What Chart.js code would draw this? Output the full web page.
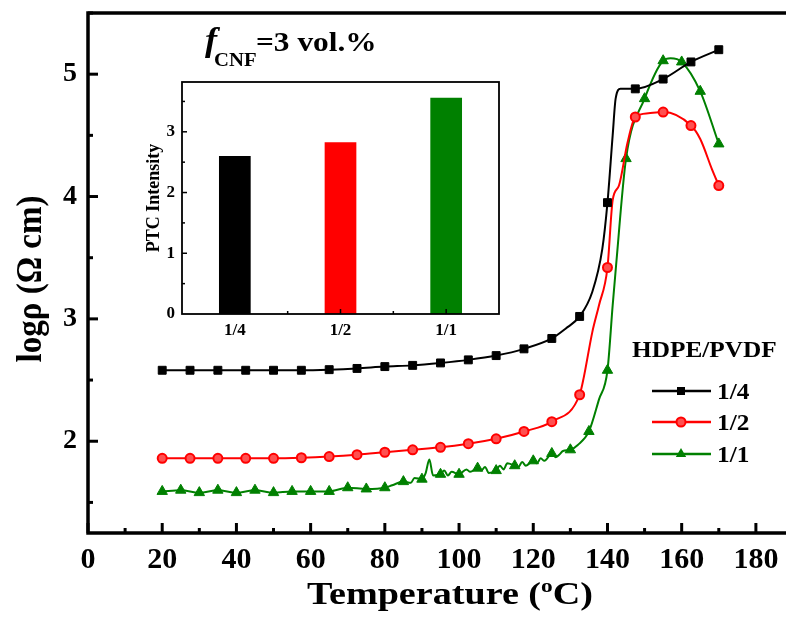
<!DOCTYPE html>
<html><head><meta charset="utf-8">
<script src="https://cdn.jsdelivr.net/npm/chart.js@4/dist/chart.umd.min.js"></script>
<style>
html,body{margin:0;padding:0;background:#fff;overflow:hidden;width:786px;height:618px;}
#wrap{position:relative;width:786px;height:618px;overflow:hidden;background:#fff;}
#main{position:absolute;left:0;top:0;}
#inset{position:absolute;left:140px;top:70px;}
</style></head><body>
<div id="wrap"><canvas id="main" width="800" height="618"></canvas><canvas id="inset" width="370" height="275"></canvas></div>
<script>
// ---------- data ----------
const seriesNames = ['1/4', '1/2', '1/1'];

const blackT = [20,27.5,35,42.5,50,57.5,65,72.5,80,87.5,95,102.5,110,117.5,125,128.7,132.5,135.9,138.6,140,141.4,142.2,143.5,147.5,155,162.5,170];
const blackV = [2.58,2.58,2.58,2.58,2.58,2.58,2.585,2.595,2.61,2.62,2.64,2.665,2.70,2.755,2.84,2.92,3.02,3.22,3.57,3.95,4.50,4.80,4.88,4.88,4.96,5.10,5.20];

const redT = [20,27.5,35,42.5,50,57.5,65,72.5,80,87.5,95,102.5,110,117.5,125,132.5,133.6,135.9,137.7,140,141.4,143.1,145.4,147.5,151,155,162.5,165,168.2,170];
const redV = [1.86,1.86,1.86,1.86,1.86,1.865,1.875,1.89,1.91,1.93,1.95,1.98,2.02,2.08,2.16,2.38,2.52,2.89,3.11,3.42,3.97,4.09,4.44,4.65,4.68,4.69,4.58,4.47,4.22,4.09];

const greenT = [20,25,30,35,40,45,50,55,60,65,70,75,80,82,85,87,88,90,91,92,93,95,96,97,98,100,102,103,105,106,107,108,110,111,112,113,115,116,117,118,120,121,122,123,125,126,127,128,130,132,135,137.7,140,141.4,142.3,145,150,155,157,160,165,170];
const greenV = [1.59,1.60,1.58,1.60,1.58,1.60,1.58,1.59,1.59,1.59,1.62,1.61,1.62,1.64,1.67,1.66,1.70,1.69,1.74,1.85,1.72,1.73,1.76,1.72,1.75,1.73,1.77,1.75,1.78,1.76,1.79,1.74,1.76,1.80,1.77,1.82,1.80,1.79,1.83,1.80,1.84,1.82,1.86,1.84,1.90,1.87,1.89,1.92,1.93,1.97,2.08,2.34,2.58,3.11,3.43,4.31,4.80,5.11,5.13,5.10,4.86,4.43];

const xTicks = [0,20,40,60,80,100,120,140,160,180];
const yTicks = [2,3,4,5];

// inset
const ptcLabels = ['1/4', '1/2', '1/1'];
const ptcValues = [2.60, 2.83, 3.56];
const insetTicks = [0,1,2,3];

// ---------- styles ----------
const FAM = "'Liberation Serif','Times New Roman',serif";
const colors = ['#000000', '#ff0000', '#008000'];

function pts(T, V) { return T.map((t, i) => ({x: t, y: V[i]})); }
function onStep(x, step) { if (x == null) return false; const k = (x - 20) / step; return Math.abs(k - Math.round(k)) < 1e-6; }
function noPad(s) { s.paddingTop = 0; s.paddingBottom = 0; s.paddingLeft = 0; s.paddingRight = 0; }

function stretchText(ctx, txt, x, y, font, sx, align) {
  ctx.save();
  ctx.font = font;
  ctx.fillStyle = '#000';
  ctx.textAlign = align || 'left';
  ctx.textBaseline = 'alphabetic';
  ctx.translate(x, y);
  ctx.scale(sx, 1);
  ctx.fillText(txt, 0, 0);
  ctx.restore();
}

function marker(ctx, style, x, y, color) {
  ctx.save();
  ctx.fillStyle = color; ctx.strokeStyle = color; ctx.lineWidth = 2;
  ctx.beginPath();
  if (style === 'rect') { ctx.rect(x - 4, y - 4, 8, 8); ctx.fill(); }
  else if (style === 'circle') { ctx.arc(x, y, 4.5, 0, Math.PI * 2); ctx.fillStyle = '#ff5050'; ctx.fill(); ctx.stroke(); }
  else { const r = 6; ctx.moveTo(x, y - r); ctx.lineTo(x + r * 0.866, y + r * 0.5); ctx.lineTo(x - r * 0.866, y + r * 0.5); ctx.closePath(); ctx.fill(); }
  ctx.restore();
}

const mainDecor = {
  id: 'mainDecor',
  afterDraw(chart) {
    const ctx = chart.ctx, a = chart.chartArea, xs = chart.scales.x, ys = chart.scales.y;
    ctx.save();
    ctx.strokeStyle = '#000';
    ctx.lineWidth = 3;
    for (let v = 0; v <= 190; v += 10) {
      const px = xs.getPixelForValue(v);
      const L = (v % 20 === 0) ? 10 : 5;
      ctx.beginPath(); ctx.moveTo(px, a.bottom); ctx.lineTo(px, a.bottom - L); ctx.stroke();
    }
    for (let v = 1.5; v <= 5.5; v += 0.5) {
      const py = ys.getPixelForValue(v);
      const L = (Math.abs(v - Math.round(v)) < 1e-6) ? 10 : 5;
      ctx.beginPath(); ctx.moveTo(a.left, py); ctx.lineTo(a.left + L, py); ctx.stroke();
    }
    ctx.lineWidth = 3.5;
    ctx.strokeRect(a.left, a.top, a.right - a.left, a.bottom - a.top);
    ctx.restore();

    // x title with superscript o
    const xf = 'bold 31px ' + FAM;
    ctx.save(); ctx.font = xf;
    const s1 = 'Temperature (', s2 = 'C)';
    const w1 = ctx.measureText(s1).width, w2 = ctx.measureText(s2).width;
    ctx.font = 'bold 19px ' + FAM; const wo = ctx.measureText('o').width;
    ctx.restore();
    const sx = 1.23;
    const total = (w1 + wo + w2) * sx;
    let x0 = 450 - total / 2;
    stretchText(ctx, s1, x0, 604, xf, sx, 'left');
    stretchText(ctx, 'o', x0 + w1 * sx, 592, 'bold 19px ' + FAM, sx, 'left');
    stretchText(ctx, s2, x0 + (w1 + wo) * sx, 604, xf, sx, 'left');

    // y title (rotated)
    ctx.save();
    ctx.font = 'bold 33px ' + FAM; ctx.fillStyle = '#000';
    ctx.textAlign = 'center'; ctx.textBaseline = 'middle';
    ctx.translate(32, 279); ctx.scale(1.1, 1); ctx.rotate(-Math.PI / 2);
    ctx.fillText('log\u03C1 (\u03A9 cm)', 0, 0);
    ctx.restore();

    // annotation f_CNF = 3 vol.%
    stretchText(ctx, 'f', 205, 51, 'italic bold 33px ' + FAM, 1.1, 'left');
    stretchText(ctx, 'CNF', 214, 66, 'bold 18px ' + FAM, 1.15, 'left');
    stretchText(ctx, '=3 vol.%', 256, 51, 'bold 28px ' + FAM, 1.12, 'left');

    // legend
    stretchText(ctx, 'HDPE/PVDF', 632, 357, 'bold 23px ' + FAM, 1.1, 'left');
    const ly = [391, 422, 454], styles = ['rect', 'circle', 'triangle'];
    for (let i = 0; i < 3; i++) {
      ctx.save(); ctx.strokeStyle = colors[i]; ctx.lineWidth = 2.5;
      ctx.beginPath(); ctx.moveTo(652, ly[i]); ctx.lineTo(711, ly[i]); ctx.stroke(); ctx.restore();
      marker(ctx, styles[i], 681, ly[i], colors[i]);
      stretchText(ctx, seriesNames[i], 717, ly[i] + 8, 'bold 23px ' + FAM, 1.1, 'left');
    }
  }
};

new Chart(document.getElementById('main'), {
  type: 'line',
  data: {
    datasets: [
      { label: seriesNames[0], data: pts(blackT, blackV), borderColor: colors[0], backgroundColor: colors[0], borderWidth: 2,
        pointStyle: 'rect', pointRadius: c => onStep(c.raw && c.raw.x, 7.5) ? 5.6 : 0, pointBorderWidth: 1,
        cubicInterpolationMode: 'monotone' },
      { label: seriesNames[1], data: pts(redT, redV), borderColor: colors[1], backgroundColor: '#ff5050', borderWidth: 2,
        pointStyle: 'circle', pointRadius: c => onStep(c.raw && c.raw.x, 7.5) ? 4.5 : 0, pointBorderWidth: 2,
        cubicInterpolationMode: 'monotone' },
      { label: seriesNames[2], data: pts(greenT, greenV), borderColor: colors[2], backgroundColor: colors[2], borderWidth: 2,
        pointStyle: 'triangle', pointRadius: c => onStep(c.raw && c.raw.x, 5) ? 6 : 0, pointBorderWidth: 1,
        cubicInterpolationMode: 'monotone' }
    ]
  },
  options: {
    responsive: false, animation: false, devicePixelRatio: 1,
    layout: { padding: { top: 13, right: 6, left: 0, bottom: 0 } },
    plugins: { legend: { display: false }, tooltip: { enabled: false } },
    scales: {
      x: { type: 'linear', min: 0, max: 190,
        afterBuildTicks: s => { s.ticks = xTicks.map(v => ({ value: v })); },
        afterFit: s => { s.height = 85; noPad(s); },
        grid: { display: false, drawTicks: false }, border: { display: false },
        ticks: { font: { family: FAM, size: 30, weight: 'bold' }, color: '#000', padding: 9, maxRotation: 0, autoSkip: false } },
      y: { type: 'linear', min: 1.25, max: 5.5,
        afterBuildTicks: s => { s.ticks = yTicks.map(v => ({ value: v })); },
        afterFit: s => { s.width = 88; noPad(s); },
        grid: { display: false, drawTicks: false }, border: { display: false },
        ticks: { font: { family: FAM, size: 28, weight: 'bold' }, color: '#000', padding: 11 } }
    }
  },
  plugins: [mainDecor]
});

const insetDecor = {
  id: 'insetDecor',
  beforeDraw(chart) {
    const ctx = chart.ctx, a = chart.chartArea;
    ctx.save(); ctx.fillStyle = '#fff'; ctx.fillRect(a.left, a.top, a.right - a.left, a.bottom - a.top); ctx.restore();
  },
  afterDraw(chart) {
    const ctx = chart.ctx, a = chart.chartArea, xs = chart.scales.x, ys = chart.scales.y;
    ctx.save(); ctx.strokeStyle = '#000'; ctx.lineWidth = 1.5;
    for (let v = 0.5; v <= 3.5; v += 0.5) {
      const py = ys.getPixelForValue(v);
      const L = (Math.abs(v - Math.round(v)) < 1e-6) ? 5 : 3;
      ctx.beginPath(); ctx.moveTo(a.left, py); ctx.lineTo(a.left + L, py); ctx.stroke();
    }
    for (let i = 0; i < ptcLabels.length; i++) {
      const px = xs.getPixelForValue(i);
      ctx.beginPath(); ctx.moveTo(px, a.bottom); ctx.lineTo(px, a.bottom - 5); ctx.stroke();
      if (i < ptcLabels.length - 1) {
        const pm = (px + xs.getPixelForValue(i + 1)) / 2;
        ctx.beginPath(); ctx.moveTo(pm, a.bottom); ctx.lineTo(pm, a.bottom - 3); ctx.stroke();
      }
    }
    ctx.lineWidth = 1.8;
    ctx.strokeRect(a.left, a.top, a.right - a.left, a.bottom - a.top);
    ctx.restore();
  }
};

new Chart(document.getElementById('inset'), {
  type: 'bar',
  data: { labels: ptcLabels, datasets: [{ label: 'PTC Intensity', data: ptcValues, backgroundColor: colors, barPercentage: 0.3, categoryPercentage: 1 }] },
  options: {
    responsive: false, animation: false, devicePixelRatio: 1,
    layout: { padding: { top: 12, right: 11, left: 0, bottom: 0 } },
    plugins: { legend: { display: false }, tooltip: { enabled: false } },
    scales: {
      x: { afterFit: s => { s.height = 31; noPad(s); }, grid: { display: false, drawTicks: false }, border: { display: false },
        ticks: { font: { family: FAM, size: 17, weight: 'bold' }, color: '#000', padding: 6 } },
      y: { min: 0, max: 3.82,
        afterBuildTicks: s => { s.ticks = insetTicks.map(v => ({ value: v })); },
        afterFit: s => { s.width = 42; noPad(s); }, grid: { display: false, drawTicks: false }, border: { display: false },
        title: { display: true, text: 'PTC Intensity', font: { family: FAM, size: 18, weight: 'bold' }, color: '#000', padding: { top: 4, bottom: 0 } },
        ticks: { font: { family: FAM, size: 17, weight: 'bold' }, color: '#000', padding: 7 } }
    }
  },
  plugins: [insetDecor]
});
</script>
</body></html>
